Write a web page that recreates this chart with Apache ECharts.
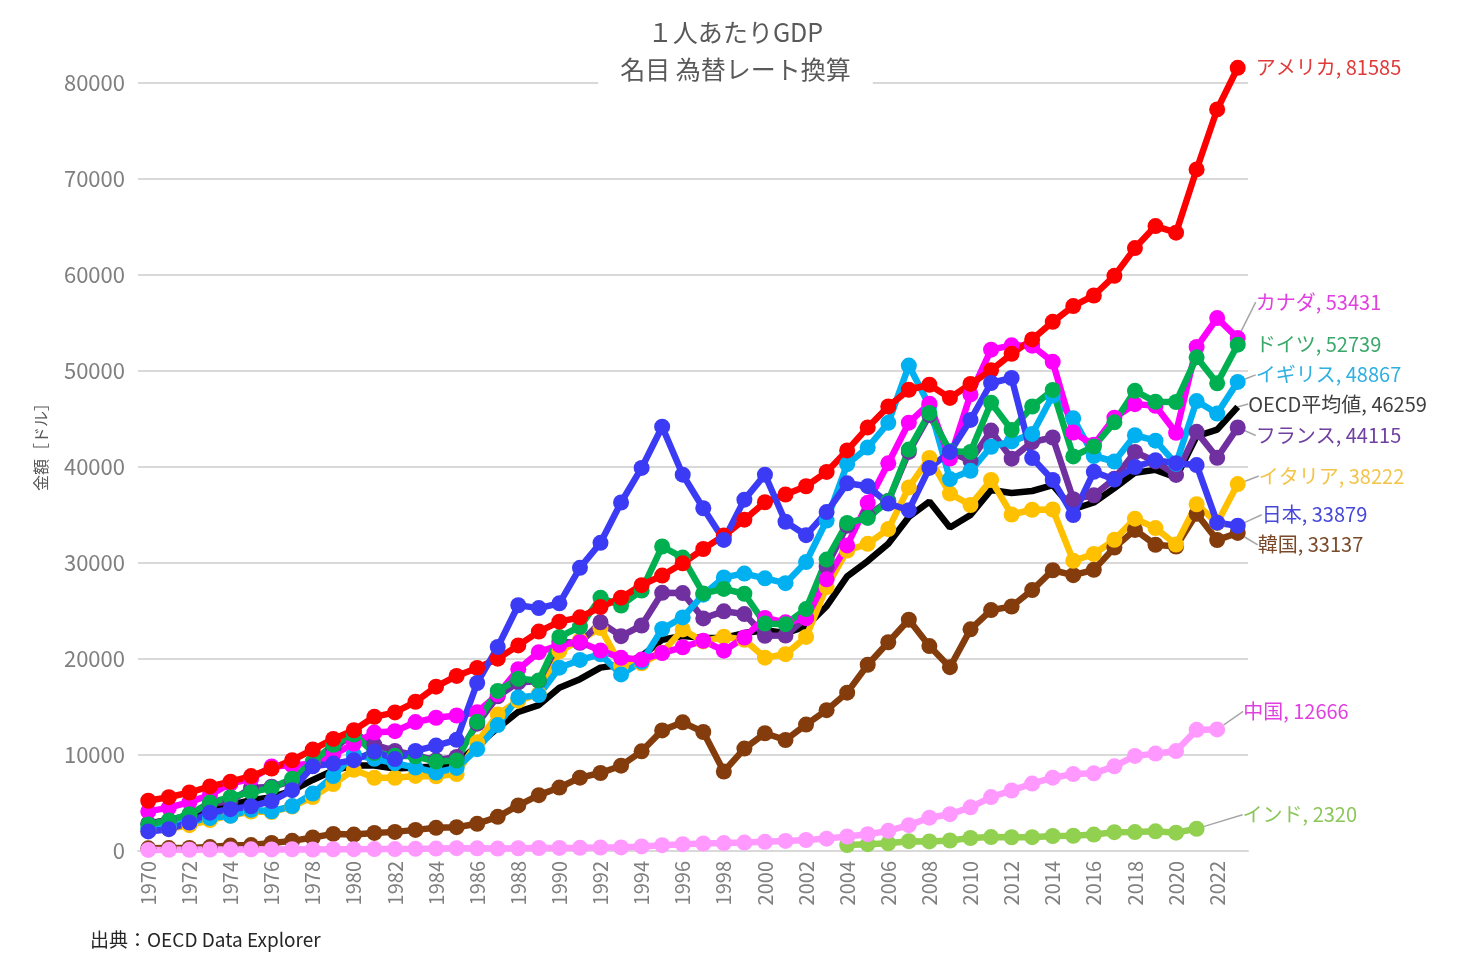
<!DOCTYPE html>
<html><head><meta charset="utf-8">
<script src="https://cdn.jsdelivr.net/npm/echarts@6/dist/echarts.min.js"></script>
<style>html,body{margin:0;padding:0;background:#fff}#c{width:1471px;height:961px}</style>
</head><body><div id="c"></div>
<script>
const years = ['1970','1971','1972','1973','1974','1975','1976','1977','1978','1979','1980','1981','1982','1983','1984','1985','1986','1987','1988','1989','1990','1991','1992','1993','1994','1995','1996','1997','1998','1999','2000','2001','2002','2003','2004','2005','2006','2007','2008','2009','2010','2011','2012','2013','2014','2015','2016','2017','2018','2019','2020','2021','2022','2023'];

const usa = [5234,5609,6094,6726,7226,7801,8592,9453,10565,11674,12575,13976,14434,15544,17121,18237,19071,20039,21417,22857,23889,24342,25419,26387,27695,28691,29968,31459,32854,34515,36330,37134,37998,39490,41725,44123,46302,48050,48570,47195,48651,50066,51784,53291,55124,56763,57867,59915,62805,65095,64412,70996,77246,81585];
const canada = [4122,4520,5089,5838,7033,7511,8809,8919,9124,10043,11171,12338,12482,13425,13879,14114,14461,16309,18937,20716,21448,21768,20880,20121,19935,20614,21227,21901,20871,22242,24271,23822,24255,28300,31830,36267,40387,44617,46597,40877,47562,52224,52670,52635,50956,43596,42316,45129,46549,46374,43562,52497,55509,53431];
const germany = [2761,3190,3824,5045,5606,6129,6579,7523,9298,11061,12138,10209,9913,9864,9313,9430,13463,16677,17931,17764,22304,23357,26378,25573,27137,31720,30560,26829,27298,26797,23694,23629,25197,30358,34166,34697,36448,41815,45613,41649,41572,46705,43856,46299,48024,41103,42136,44653,47939,46794,46773,51426,48718,52739];
const uk = [2348,2649,3030,3426,3666,4300,4138,4681,5977,7805,10032,9599,9146,8691,8179,8652,10611,13119,15987,16239,19095,19900,20487,18389,19709,23123,24332,26700,28500,28900,28400,27900,30100,34419,40291,42030,44599,50566,46399,38745,39599,42110,42663,43449,47447,45071,41146,40572,43307,42747,40318,46870,45564,48867];
const oecd = [2900,3200,3700,4400,4800,5300,5600,6300,7400,8400,8900,8900,8600,8700,8800,9100,11000,12800,14500,15200,17000,17900,19100,19400,20300,22000,22400,22200,22200,22700,23000,22700,23400,25500,28600,30200,32000,34800,36400,33700,35000,37600,37300,37500,38100,35600,36300,37800,39400,39700,38900,43200,43900,46259];
const france = [2870,3150,3800,4940,5190,6560,6690,7290,8860,10600,12300,11060,10420,9970,9450,9800,13260,16110,17560,17720,21790,21680,23830,22380,23490,26890,26870,24230,24970,24680,22420,22450,24290,29620,33890,34940,36470,41570,45410,41570,40640,43790,40870,42600,43070,36650,37060,38780,41560,40580,39170,43660,40960,44115];
const italy = [2110,2320,2690,3220,3680,4110,4050,4630,5620,6980,8460,7630,7630,7820,7780,8010,11320,14230,15660,16370,20830,21950,23230,19310,19550,20660,23080,21830,22320,22000,20140,20500,22300,27490,31300,32000,33530,37870,40940,37230,36040,38650,35050,35550,35570,30230,30940,32410,34620,33640,31920,36120,34160,38222];
const japan = [2038,2272,2967,3997,4354,4659,5198,6335,8821,9105,9463,10361,9578,10425,10984,11585,17500,21250,25600,25300,25800,29500,32100,36300,39900,44200,39200,35700,32400,36600,39200,34300,32900,35300,38300,38000,36200,35500,39900,41570,44900,48750,49270,40940,38650,35000,39500,38700,40000,40700,40400,40200,34200,33879];
const korea = [279,301,323,406,563,617,834,1055,1405,1783,1715,1883,1992,2199,2413,2482,2835,3555,4749,5817,6610,7637,8127,8886,10385,12565,13403,12398,8282,10672,12263,11563,13165,14673,16496,19403,21743,24086,21350,19144,23087,25096,25467,27182,29242,28732,29288,31605,33447,31902,31721,35126,32395,33137];
const china = [113,119,132,157,160,178,165,185,156,184,195,197,203,225,251,294,282,252,284,311,318,333,366,377,473,610,709,782,829,873,959,1053,1149,1289,1509,1753,2099,2694,3468,3832,4550,5614,6301,7020,7636,8016,8094,8817,9905,10144,10409,12618,12666];
const indiaStartYear = '2004';
const india = [624,710,802,1023,993,1096,1351,1450,1434,1438,1560,1590,1714,1958,1974,2050,1913,2320];

const FONT = '"Noto Sans CJK JP","Noto Sans",sans-serif';

function pad(start, arr){
  const out = [];
  const s = years.indexOf(start);
  for (let i = 0; i < s; i++) out.push(null);
  return out.concat(arr);
}

function mk(name, arr, color, labelColor, lay, opts){
  opts = opts || {};
  let last = arr.length - 1;
  while (last >= 0 && arr[last] == null) last--;
  const data = arr.map((v, i) => i === last ? {value: v, label: {show: true}} : v);
  return {
    name: name, type: 'line', data: data,
    symbol: 'circle', symbolSize: opts.symbolSize || 16,
    showSymbol: true, showAllSymbol: true,
    clip: false,
    lineStyle: {color: color, width: 6.5},
    itemStyle: {color: color},
    connectNulls: false,
    label: {show: false, position: 'right', distance: 10,
      formatter: p => name + ', ' + p.value,
      color: labelColor, fontSize: 20, fontFamily: FONT},
    labelLayout: {dx: lay[0], dy: lay[1]},
    labelLine: {show: lay[2] !== false, lineStyle: {color: '#a6a6a6', width: 1.5}},
    emphasis: {disabled: true},
    z: 2
  };
}

const series = [
  mk('インド', pad(indiaStartYear, india), '#92d050', '#8cc65a', [28, -14]),
  mk('韓国', korea, '#843c0c', '#7a4a2a', [2, 12]),
  mk('中国', china, '#ff99ff', '#e040e0', [8, -18]),
  mk('OECD平均値', oecd, '#000000', '#404040', [0, -3], {symbolSize: 1}),
  mk('イタリア', italy, '#ffc000', '#f2c44a', [3, -8]),
  mk('フランス', france, '#7030a0', '#7040a0', [0, 8]),
  mk('イギリス', uk, '#00b0f0', '#30b0e0', [0, -7]),
  mk('カナダ', canada, '#ff00ff', '#e040e0', [0, -36]),
  mk('ドイツ', germany, '#00b050', '#3aa86a', [0, 0, false]),
  mk('アメリカ', usa, '#ff0000', '#e03a3a', [0, 0, false]),
  mk('日本', japan, '#3b3bf5', '#4848d8', [6, -11])
];

const chart = echarts.init(document.getElementById('c'), null, {renderer: 'canvas'});
chart.setOption({
  animation: false,
  backgroundColor: '#ffffff',
  title: {
    text: '１人あたりGDP\n名目 為替レート換算',
    left: 'center', top: 12,
    backgroundColor: '#ffffff',
    padding: [2, 22],
    textStyle: {fontSize: 25, color: '#595959', fontWeight: 'normal', lineHeight: 37, fontFamily: FONT}
  },
  grid: {left: 138, right: 223, top: 83, bottom: 110, containLabel: false},
  xAxis: {
    type: 'category', data: years, boundaryGap: true,
    axisLine: {show: true, lineStyle: {color: '#d9d9d9', width: 2}},
    axisTick: {show: false},
    axisLabel: {interval: 1, rotate: 90, fontSize: 20, color: '#7f7f7f', margin: 10, fontFamily: FONT},
    splitLine: {show: false}
  },
  yAxis: {
    type: 'value', min: 0, max: 80000, interval: 10000,
    axisLine: {show: false}, axisTick: {show: false},
    axisLabel: {fontSize: 22, color: '#7f7f7f', margin: 13, fontFamily: FONT, formatter: v => String(v)},
    splitLine: {lineStyle: {color: '#d9d9d9', width: 2}}
  },
  graphic: [
    {type: 'text', x: 41, y: 443, rotation: Math.PI / 2,
      style: {text: '金額［ドル］', fill: '#595959', font: '16px ' + FONT, textAlign: 'center', textVerticalAlign: 'middle'}},
    {type: 'text', x: 90, y: 940,
      style: {text: '出典：OECD Data Explorer', fill: '#262626', font: '19px ' + FONT, textAlign: 'left', textVerticalAlign: 'middle'}}
  ],
  series: series
});
</script>
</body></html>
